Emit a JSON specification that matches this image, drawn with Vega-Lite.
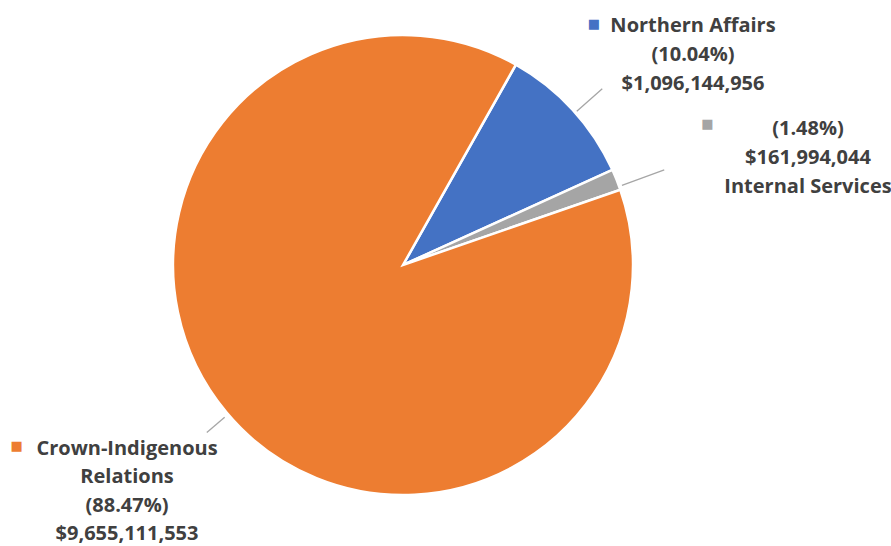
{
  "$schema": "https://vega.github.io/schema/vega-lite/v6.json",
  "width": 806,
  "height": 530,
  "padding": {"left": 0, "top": 0, "right": 85, "bottom": 16},
  "autosize": {"type": "none"},
  "background": "white",
  "config": {"view": {"stroke": null}},
  "data": {
    "values": [
      {"cat": "Northern Affairs", "value": 1096144956, "order": 1, "label": "Northern Affairs\n(10.04%)\n$1,096,144,956"},
      {"cat": "Internal Services", "value": 161994044, "order": 2, "label": "(1.48%)\n$161,994,044\nInternal Services"},
      {"cat": "Crown-Indigenous Relations", "value": 9655111553, "order": 3, "label": "Crown-Indigenous\nRelations\n(88.47%)\n$9,655,111,553"}
    ]
  },
  "encoding": {
    "theta": {"field": "value", "type": "quantitative", "stack": true, "scale": {"range": [0.5131, 6.7963]}},
    "order": {"field": "order", "type": "quantitative"}
  },
  "layer": [
    {
      "mark": {"type": "arc", "outerRadius": 230, "stroke": "white", "strokeWidth": 2.5},
      "encoding": {
        "color": {"field": "cat", "type": "nominal", "legend": null,
          "scale": {"domain": ["Northern Affairs", "Internal Services", "Crown-Indigenous Relations"], "range": ["#4472C4", "#A5A5A5", "#ED7D31"]}}
      }
    },
    {
      "mark": {"type": "arc", "radius": 266, "radius2": 232, "thetaOffset": 0.018, "padAngle": 3, "fill": null, "strokeWidth": 1.3},
      "encoding": {"stroke": {"condition": {"test": "datum.cat === 'Northern Affairs'", "value": "#A6A6A6"}, "value": null}}
    },
    {
      "mark": {"type": "arc", "radius": 278, "radius2": 233, "thetaOffset": 0.031, "padAngle": 3, "fill": null, "strokeWidth": 1.3},
      "encoding": {"stroke": {"condition": {"test": "datum.cat === 'Internal Services'", "value": "#A6A6A6"}, "value": null}}
    },
    {
      "mark": {"type": "arc", "radius": 258, "radius2": 233, "thetaOffset": 3.4924, "fill": null, "strokeWidth": 1.3, "strokeDash": [0, 2754.4, 25, 4000]},
      "encoding": {"stroke": {"condition": {"test": "datum.cat === 'Crown-Indigenous Relations'", "value": "#A6A6A6"}, "value": null}}
    },
    {
      "mark": {"type": "text", "radius": 230, "dx": 120.5, "dy": -93.3, "align": "center", "baseline": "top", "lineBreak": "\n", "lineHeight": 29, "font": "Open Sans", "fontWeight": "bold", "fontSize": 20, "fill": "#404040"},
      "encoding": {"text": {"condition": {"test": "datum.cat === 'Northern Affairs'", "field": "label"}, "value": ""}}
    },
    {
      "mark": {"type": "text", "radius": 230, "dx": 191.4, "dy": -60.4, "align": "center", "baseline": "top", "lineBreak": "\n", "lineHeight": 29, "font": "Open Sans", "fontWeight": "bold", "fontSize": 20, "fill": "#404040"},
      "encoding": {"text": {"condition": {"test": "datum.cat === 'Internal Services'", "field": "label"}, "value": ""}}
    },
    {
      "mark": {"type": "text", "radius": 230, "dx": -99.4, "dy": 26.4, "align": "center", "baseline": "top", "lineBreak": "\n", "lineHeight": 28.5, "font": "Open Sans", "fontWeight": "bold", "fontSize": 20, "fill": "#404040"},
      "encoding": {"text": {"condition": {"test": "datum.cat === 'Crown-Indigenous Relations'", "field": "label"}, "value": ""}}
    },
    {
      "mark": {"type": "text", "radius": 230, "dx": 21.5, "dy": -85.5, "align": "center", "baseline": "middle", "font": "DejaVu Sans", "fontSize": 13},
      "encoding": {
        "text": {"condition": {"test": "datum.cat === 'Northern Affairs'", "value": "■"}, "value": ""},
        "color": {"field": "cat", "type": "nominal", "legend": null}
      }
    },
    {
      "mark": {"type": "text", "radius": 230, "dx": 90.9, "dy": -55.6, "align": "center", "baseline": "middle", "font": "DejaVu Sans", "fontSize": 13},
      "encoding": {
        "text": {"condition": {"test": "datum.cat === 'Internal Services'", "value": "■"}, "value": ""},
        "color": {"field": "cat", "type": "nominal", "legend": null}
      }
    },
    {
      "mark": {"type": "text", "radius": 230, "dx": -209.9, "dy": 33.4, "align": "center", "baseline": "middle", "font": "DejaVu Sans", "fontSize": 13},
      "encoding": {
        "text": {"condition": {"test": "datum.cat === 'Crown-Indigenous Relations'", "value": "■"}, "value": ""},
        "color": {"field": "cat", "type": "nominal", "legend": null}
      }
    }
  ]
}
